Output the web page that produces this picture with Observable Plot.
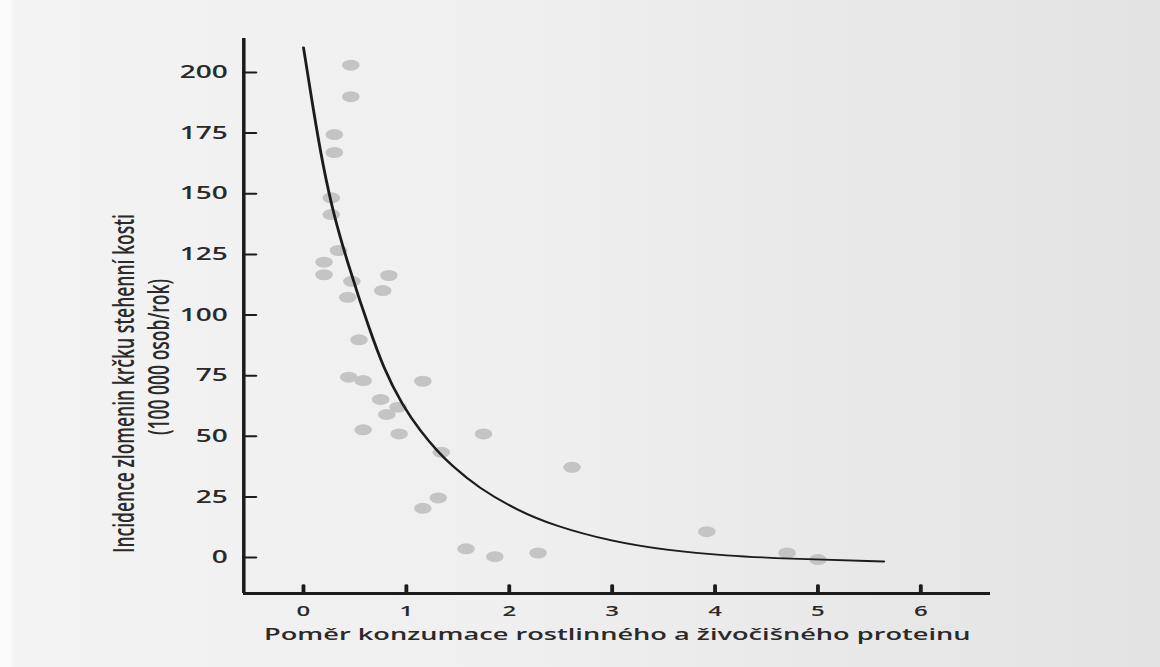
<!DOCTYPE html>
<html><head><meta charset="utf-8">
<script src="https://cdn.jsdelivr.net/npm/d3@7"></script>
<script src="https://cdn.jsdelivr.net/npm/@observablehq/plot@0.6"></script>
<style>
html,body{margin:0;padding:0;}
body{width:1160px;height:667px;overflow:hidden;
  background:linear-gradient(to right,#fbfbfb 0px,#fbfbfb 10px,#f3f3f3 14px,#efefef 45%,#e8e8e8 75%,#e3e3e3 100%);}
#chart svg{display:block}
</style></head><body><div id="chart"></div>
<script>
// Scatter points (ratio of plant to animal protein, hip fracture incidence)
const pointX = [0.46, 0.46, 0.30, 0.30, 0.27, 0.27, 0.34, 0.20, 0.20, 0.47, 0.83, 0.77, 0.43,
                0.54, 0.44, 0.58, 1.16, 0.75, 0.81, 0.92, 0.58, 0.93, 1.75, 1.34, 1.31, 1.16,
                1.58, 1.86, 2.28, 2.61, 3.92, 4.70, 5.00];
const pointY = [203, 190, 174.4, 167, 148.3, 141.4, 126.6, 121.8, 116.6, 113.9, 116.3, 110.1, 107.3,
                89.8, 74.4, 73, 72.7, 65.2, 59, 62, 52.7, 51, 51, 43.4, 24.6, 20.3,
                3.6, 0.4, 1.9, 37.2, 10.7, 1.9, -0.8];
// Fitted curve
const curveX = [0.0, 0.097, 0.185, 0.292, 0.438, 0.535, 0.623, 0.778, 0.963, 1.138, 1.313, 1.43, 1.693, 2.082, 2.432, 2.996, 3.55, 4.11, 4.67, 5.64];
const curveY = [210.3, 184.3, 162.5, 141.4, 120.4, 107.6, 96.5, 77.9, 62.7, 52.0, 43.3, 38.4, 28.9, 19.4, 13.2, 6.6, 2.9, 0.8, -0.4, -1.6];
const xTicks = [0, 1, 2, 3, 4, 5, 6];
const yTicks = [0, 25, 50, 75, 100, 125, 150, 175, 200];
const xTitle = "Poměr konzumace rostlinného a živočišného proteinu";
const yTitle1 = "Incidence zlomenin krčku stehenní kosti";
const yTitle2 = "(100 000 osob/rok)";
const xDomain = [-0.58, 6.68];
const yDomain = [-14.8, 214];

const S = 1.6; // horizontal stretch of the scanned page
const W = 1160 / S, H = 667;
const points = pointX.map((x, i) => ({x, y: pointY[i]}));
const curve = curveX.map((x, i) => ({x, y: curveY[i]}));
const ink = "#1c1c1c", txt = "#2a2a2a";
const tickUp = {draw(context, l) { context.moveTo(0, 0); context.lineTo(0, -l); }};

const plot = Plot.plot({
  width: W, height: H,
  marginLeft: 243 / S, marginRight: 170 / S, marginTop: 38, marginBottom: 74,
  x: {domain: xDomain, label: null},
  y: {domain: yDomain, label: null},
  style: {background: "transparent", fontFamily: "'Open Sans', sans-serif", color: txt, overflow: "visible"},
  marks: [
    Plot.dot(points, {x: "x", y: "y", r: 5.5, fill: "#c4c4c4"}),
    Plot.line(curve, {x: "x", y: "y", stroke: ink, strokeWidth: 1.8, curve: "basis"}),
    Plot.ruleX([xDomain[0]], {stroke: ink, strokeWidth: 2.2}),
    Plot.ruleY([yDomain[0]], {stroke: ink, strokeWidth: 2.8}),
    Plot.vector(yTicks, {y: d => d, frameAnchor: "left", rotate: 90, length: 7.5, anchor: "start", shape: tickUp, stroke: ink, strokeWidth: 2}),
    Plot.vector(xTicks, {x: d => d, frameAnchor: "bottom", rotate: 0, length: 8, anchor: "start", shape: tickUp, stroke: ink, strokeWidth: 2.4}),
    Plot.axisY(yTicks, {tickSize: 0, tickPadding: 10, fontSize: 17.5, fontWeight: 600, fill: txt, label: null}),
    Plot.axisX(xTicks, {tickSize: 0, tickPadding: 12, fontSize: 15, fontWeight: 600, fill: txt, label: null}),
    Plot.text([xTitle], {frameAnchor: "bottom", dy: 46, fontSize: 17, fontWeight: 600, fill: txt}),
    Plot.text([yTitle1], {frameAnchor: "left", textAnchor: "middle", dx: (124 - 243) / S, dy: 67.5, rotate: -90, fontSize: 17.5, fontWeight: 600, fill: txt}),
    Plot.text([yTitle2], {frameAnchor: "left", textAnchor: "middle", dx: (159 - 243) / S, dy: 41, rotate: -90, fontSize: 17.5, fontWeight: 600, fill: txt})
  ]
});
plot.setAttribute("viewBox", `0 0 ${W} ${H}`);
plot.setAttribute("width", 1160);
plot.setAttribute("height", H);
plot.setAttribute("preserveAspectRatio", "none");
plot.style.width = "1160px";
plot.style.height = H + "px";
plot.style.maxWidth = "none";
document.getElementById("chart").appendChild(plot);
</script>
</body></html>
